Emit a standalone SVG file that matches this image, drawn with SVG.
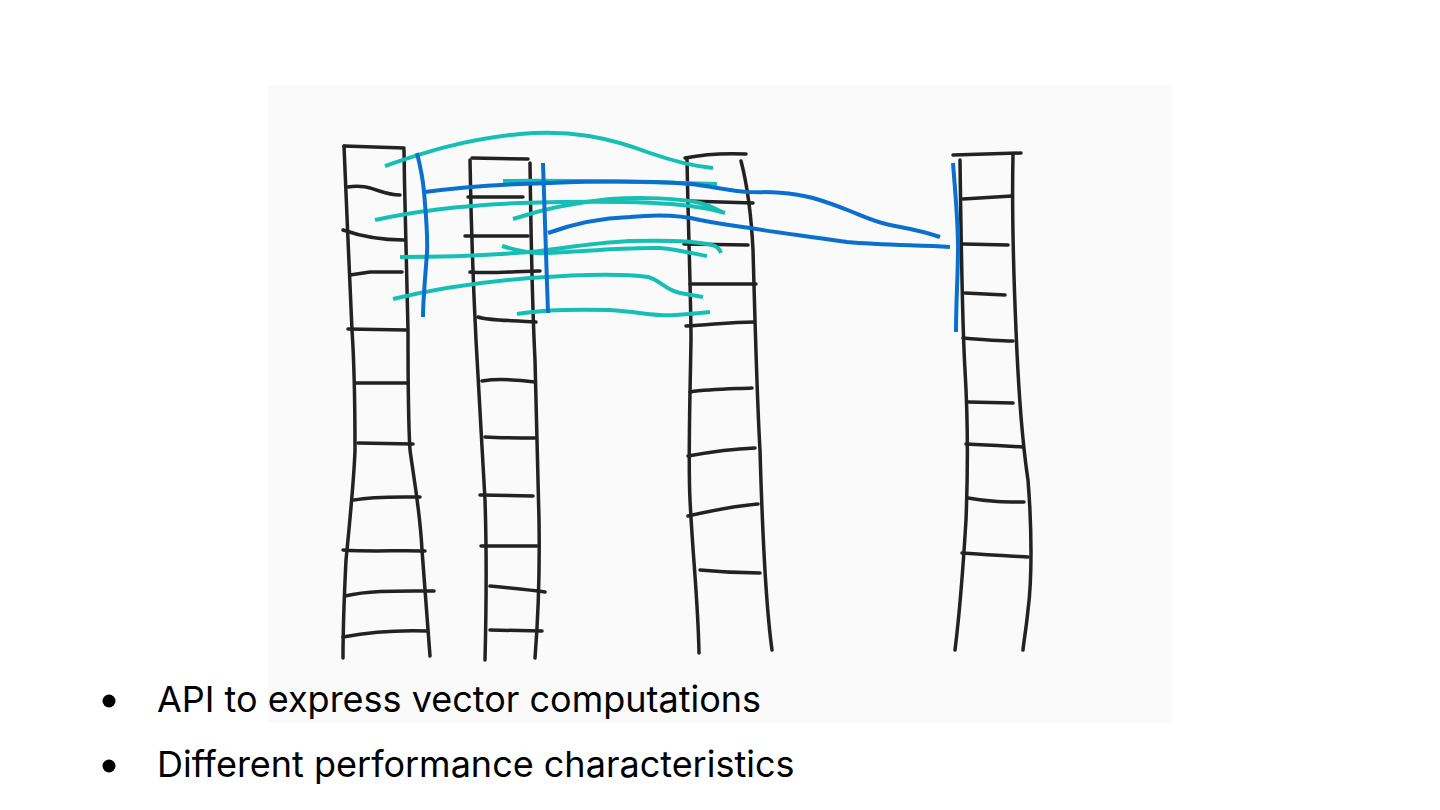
<svg xmlns="http://www.w3.org/2000/svg" width="1440" height="810" viewBox="0 0 1440 810">
<style>
.ink{fill:none;stroke:#222;stroke-width:3.5;stroke-linecap:round;stroke-linejoin:round}
.blue{fill:none;stroke:#0b70cd;stroke-width:4;stroke-linecap:butt;stroke-linejoin:round}
.teal{fill:none;stroke:#16bfb3;stroke-width:4;stroke-linecap:butt;stroke-linejoin:round}
.txt{font-family:Inter,"Liberation Sans",sans-serif;font-size:36px;fill:#000}
</style>
<rect width="1440" height="810" fill="#ffffff"/>
<rect x="268" y="85" width="903" height="638" fill="#fafafa"/>
<g id="ladder1">
<path class="ink" d="M344,146 C346,200 350,280 352,330 C354,360 355,400 355,450 C354,480 350,520 346,560 C344,600 343,630 343,658"/>
<path class="ink" d="M404,150 C405,220 407,300 408,330 C408,380 408,420 410,450 C414,480 420,510 422,550 C425,590 428,630 430,656"/>
<path class="ink" d="M344,146 L404,148"/>
<path class="ink" d="M348,187 C370,183 380,195 400,195"/>
<path class="ink" d="M343,230 C360,236 380,240 404,240"/>
<path class="ink" d="M350,275 L370,272 L402,272"/>
<path class="ink" d="M348,329 L406,330"/>
<path class="ink" d="M356,383 L408,383"/>
<path class="ink" d="M358,443 L413,444"/>
<path class="ink" d="M354,500 C375,496 400,497 420,497"/>
<path class="ink" d="M343,550 C370,552 400,550 425,551"/>
<path class="ink" d="M345,596 C370,590 400,591 434,591"/>
<path class="ink" d="M343,637 C370,632 400,630 427,631"/>
</g>
<g id="ladder2">
<path class="ink" d="M470,160 C471,220 474,300 476,340 C479,400 483,460 485,500 C487,560 486,620 485,660"/>
<path class="ink" d="M530,163 C531,240 533,320 535,360 C537,420 538,480 539,520 C540,580 538,620 535,658"/>
<path class="ink" d="M472,158 L528,159"/>
<path class="ink" d="M468,197 L523,197"/>
<path class="ink" d="M465,236 L528,236"/>
<path class="ink" d="M470,272 C490,274 520,271 540,271"/>
<path class="ink" d="M478,317 C490,321 510,320 536,322"/>
<path class="ink" d="M482,381 C500,378 520,380 535,382"/>
<path class="ink" d="M485,437 C500,438 520,438 535,438"/>
<path class="ink" d="M480,495 L533,496"/>
<path class="ink" d="M481,546 L537,546"/>
<path class="ink" d="M490,586 C510,588 530,590 545,592"/>
<path class="ink" d="M490,630 L542,631"/>
</g>
<g id="ladder3">
<path class="ink" d="M687,158 C688,220 691,300 691,340 C690,400 688,460 690,500 C693,560 698,600 699,653"/>
<path class="ink" d="M741,161 C746,180 751,210 753,250 C755,320 757,400 760,450 C762,520 765,600 772,650"/>
<path class="ink" d="M685,158 C705,154 725,153 746,154"/>
<path class="ink" d="M688,201 L753,203"/>
<path class="ink" d="M684,244 L748,245"/>
<path class="ink" d="M690,284 L756,284"/>
<path class="ink" d="M686,326 C710,325 730,322 754,322"/>
<path class="ink" d="M690,392 C710,389 730,389 752,388"/>
<path class="ink" d="M688,456 C710,452 730,449 755,448"/>
<path class="ink" d="M688,516 C710,511 735,506 758,504"/>
<path class="ink" d="M700,570 C720,572 740,573 760,573"/>
</g>
<g id="ladder4">
<path class="ink" d="M960,160 C961,230 962,320 965,370 C968,420 968,470 966,520 C963,570 960,610 955,650"/>
<path class="ink" d="M1013,155 C1012,200 1013,260 1016,330 C1018,380 1022,440 1028,480 C1032,530 1032,580 1028,610 C1026,630 1024,640 1023,650"/>
<path class="ink" d="M953,155 L1021,153"/>
<path class="ink" d="M963,199 C980,198 995,197 1012,196"/>
<path class="ink" d="M963,244 L1008,245"/>
<path class="ink" d="M965,293 L1005,295"/>
<path class="ink" d="M963,338 C985,340 1000,341 1013,341"/>
<path class="ink" d="M968,402 L1013,403"/>
<path class="ink" d="M966,444 C990,445 1005,446 1023,447"/>
<path class="ink" d="M968,498 C990,502 1005,502 1024,502"/>
<path class="ink" d="M962,553 C990,555 1010,556 1028,557"/>
</g>
<g id="connectors">
<path class="teal" d="M385,166 C420,154 460,140 520,134 C570,129 610,138 650,153 C670,160 690,166 713,168"/>
<path class="teal" d="M503,181 C580,180 650,182 717,184"/>
<path class="teal" d="M375,220 C420,210 470,205 520,203 C590,201 650,201 690,206 C705,208 715,210 725,213"/>
<path class="teal" d="M513,219 C540,210 570,203 610,199 C640,197 680,198 700,203 C712,206 718,210 722,212"/>
<path class="teal" d="M400,257 C440,257 480,256 530,252 C560,249 590,243 630,241 C670,240 700,242 712,245 C717,246 720,250 721,253"/>
<path class="teal" d="M502,246 C515,250 530,254 545,253 C580,252 620,247 660,248 C680,250 695,254 707,256"/>
<path class="teal" d="M393,299 C430,290 480,282 530,278 C570,275 620,273 648,277 C660,280 665,290 680,293 C690,295 697,296 703,297"/>
<path class="teal" d="M517,314 C540,310 570,309 610,310 C640,312 660,317 675,315 C690,314 700,313 710,312"/>
<path class="blue" d="M417,153 C420,165 423,180 424,192 C426,215 428,235 427,253 C425,280 423,300 423,317"/>
<path class="blue" d="M425,192 C470,186 510,184 550,183 C600,181 650,181 690,184 C710,186 730,191 747,192 C770,192 790,192 813,198 C830,203 840,207 850,211 C865,217 875,222 890,225 C905,228 920,230 940,237"/>
<path class="blue" d="M543,163 L548,313"/>
<path class="blue" d="M548,233 C570,225 600,218 630,217 C660,214 680,215 700,220 C720,224 735,226 750,228 C780,233 800,235 847,242 C880,245 910,245 950,247"/>
<path class="blue" d="M953,163 C955,190 958,220 958,247 C958,275 956,300 956,332"/>
</g>
<g id="bullets">
<circle cx="109" cy="701" r="6.5" fill="#000"/>
<text class="txt" x="157" y="712">API to express vector computations</text>
<circle cx="109" cy="766" r="6.5" fill="#000"/>
<text class="txt" x="157" y="777">Different performance characteristics</text>
</g>
</svg>
